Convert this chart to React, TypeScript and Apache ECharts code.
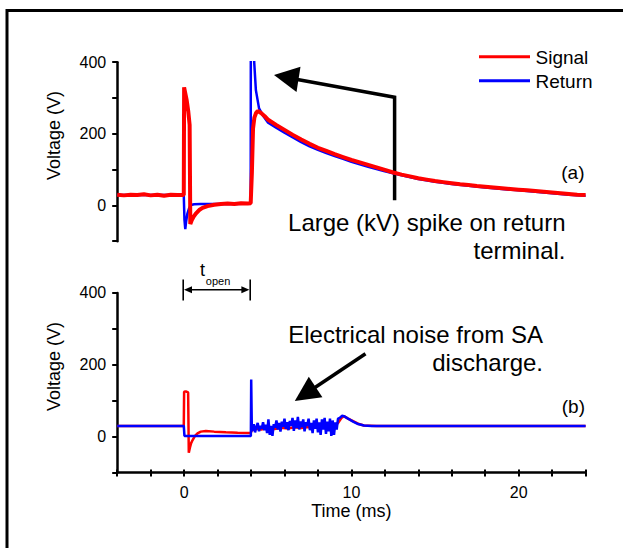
import React, { useEffect, useRef } from "react";
import * as echarts from "echarts";

// ---- Panel (a): top ----
const topSignalT = [-4, -3.6, -3.2, -2.8, -2.4, -2, -1.6, -1.2, -0.8, -0.4, -0.02, 0, 0.05, 0.15, 0.25, 0.33, 0.37, 0.45, 0.55, 0.7, 0.9, 1.1, 1.4, 1.8, 2.2, 2.6, 3.0, 3.4, 3.8, 3.98, 4.05, 4.12, 4.2, 4.3, 4.4, 4.6, 4.8, 5, 5.5, 6, 6.5, 7, 7.5, 8, 8.5, 9, 9.5, 10, 10.5, 11, 11.5, 12, 12.5, 13, 13.5, 14, 14.5, 15, 15.5, 16, 16.5, 17, 17.5, 18, 18.5, 19, 19.5, 20, 20.5, 21, 21.5, 22, 22.5, 23, 23.5, 24];
const topSignalV = [30, 28, 30, 29, 31, 28, 30, 27, 30, 29, 29, 330, 318, 295, 262, 225, -52, -42, -33, -23, -13, -7, -2, 2, 4, 5, 4, 6, 5, 6, 90, 215, 245, 258, 264, 258, 250, 240, 225, 211, 197, 184, 172, 161, 152, 143, 135, 127, 120, 113, 106, 99, 92, 86, 81, 76, 72, 68, 65, 62, 59, 57, 54, 52, 50, 48, 46, 44, 42, 40, 38, 36, 34, 32, 30, 29];

const topReturnT = [-4, -2, -0.02, 0.02, 0.07, 0.12, 0.2, 0.3, 0.4, 0.6, 1.0, 2.0, 3.0, 3.98, 4.02, 4.12, 4.19, 4.29, 4.48, 4.7, 5, 5.5, 6, 6.5, 7, 7.5, 8, 8.5, 9, 9.5, 10, 11, 12, 13, 14, 15, 16, 17, 18, 19, 20, 21, 22, 23, 24];
const topReturnV = [29, 29, 29, -40, -66, -45, -22, -8, 1, 3, 4, 4, 4, 5, 2500, 900, 400, 322, 271, 252, 232, 217, 203, 190, 177, 165, 155, 146, 138, 130, 122, 108, 95, 84, 74, 66, 60, 55, 50, 46, 42, 38, 34, 30, 27];

// ---- Panel (b): bottom ----
const botSignalT = [-4, -2, -0.02, 0.0, 0.1, 0.24, 0.28, 0.35, 0.42, 0.5, 0.65, 0.8, 1.0, 1.3, 1.8, 2.5, 3.2, 3.98, 4.05, 4.3, 4.6, 5.0, 5.4, 5.8, 6.2, 6.6, 7.0, 7.4, 7.8, 8.2, 8.6, 9.0, 9.2, 9.4, 9.55, 9.8, 10.1, 10.4, 10.75, 11.5, 14, 18, 24];
const botSignalV = [30, 30, 30, 125, 126, 123, -45, -30, -18, -10, 2, 9, 14, 16, 14, 12, 11, 10, 18, 22, 20, 24, 21, 25, 23, 26, 24, 27, 25, 28, 26, 30, 38, 52, 57, 50, 43, 36, 31, 30, 30, 30, 30];

const botReturnT = [-4, -2, -0.02, 0.02, 1, 2, 3, 3.99, 4.01, 4.05,
  4.08, 4.16, 4.24, 4.32, 4.40, 4.48, 4.56, 4.64, 4.72, 4.80, 4.88, 4.96, 5.04, 5.12, 5.20, 5.28,
  5.36, 5.44, 5.52, 5.60, 5.68, 5.76, 5.84, 5.92, 6.00, 6.08, 6.16, 6.24, 6.32, 6.40, 6.48, 6.56,
  6.64, 6.72, 6.80, 6.88, 6.96, 7.04, 7.12, 7.20, 7.28, 7.36, 7.44, 7.52, 7.60, 7.68, 7.76, 7.84,
  7.92, 8.00, 8.08, 8.16, 8.24, 8.32, 8.40, 8.48, 8.56, 8.64, 8.72, 8.80, 8.88, 8.96, 9.04, 9.12,
  9.2, 9.3, 9.45, 9.55, 9.8, 10.1, 10.4, 10.75, 11.2, 14, 18, 24];
const botReturnV = [30, 30, 30, 2, 2, 2, 2, 2, 159, 15,
  20, 35, 12, 28, 38, 15, 30, 22, 40, 18, 33, 10, 48, 5, 30, 2,
  35, 25, 45, 20, 38, 14, 42, 28, 50, 22, 40, 18, 44, 30, 52, 16,
  45, 24, 55, 20, 42, 26, 48, 15, 40, 30, 50, 18, 38, 10, 45, 22,
  50, 12, 40, 5, 48, 20, 52, 8, 42, 15, 50, 2, 45, 5, 40, 20,
  50, 52, 58, 57, 50, 42, 35, 31, 30, 30, 30, 30];

const yTickLabels = [0, 200, 400];
const xTickLabels = [0, 10, 20];

const RED = "#ff0000";
const BLUE = "#0000ff";
const FONT = '"Liberation Sans", Arial, Helvetica, sans-serif';

const zip = (t: number[], v: number[]) => t.map((x, i) => [x, v[i]]);

function yAxisFor(gridIndex: number) {
  return {
    gridIndex,
    type: "value",
    min: -100,
    max: 400,
    interval: 100,
    axisLine: { show: true, onZero: false, lineStyle: { color: "#000", width: 2.5 } },
    axisTick: { show: true, length: 5, lineStyle: { color: "#000", width: 2 } },
    axisLabel: {
      color: "#000",
      fontSize: 16,
      fontFamily: FONT,
      margin: 11,
      formatter: (v: number) => (yTickLabels.includes(v) ? String(v) : ""),
    },
    splitLine: { show: false },
  };
}

function txt(x: number, y: number, text: string, size: number, align = "left", extra: any = {}) {
  return {
    type: "text",
    x,
    y,
    silent: true,
    ...extra,
    style: {
      text,
      fill: "#000",
      fontSize: size,
      fontFamily: FONT,
      textAlign: align,
      verticalAlign: "middle",
    },
  };
}

function seg(x1: number, y1: number, x2: number, y2: number, w: number, color = "#000") {
  return { type: "line", silent: true, shape: { x1, y1, x2, y2 }, style: { stroke: color, lineWidth: w } };
}

function tri(points: number[][]) {
  return { type: "polygon", silent: true, shape: { points }, style: { fill: "#000" } };
}

export default function App() {
  const ref = useRef<HTMLDivElement>(null);
  useEffect(() => {
    if (!ref.current) return;
    const chart = echarts.init(ref.current, undefined, { renderer: "svg" });
    const option: any = {
      animation: false,
      backgroundColor: "#fff",
      grid: [
        { left: 117.2, top: 62.2, width: 468.4, height: 179 },
        { left: 117.2, top: 292.9, width: 468.4, height: 179.7 },
      ],
      xAxis: [
        { gridIndex: 0, type: "value", min: -4, max: 24, show: false, splitLine: { show: false } },
        {
          gridIndex: 1,
          type: "value",
          min: -4,
          max: 24,
          interval: 2,
          axisLine: { show: true, onZero: false, lineStyle: { color: "#000", width: 2.5 } },
          axisTick: { show: true, length: 4, lineStyle: { color: "#000", width: 2 } },
          axisLabel: {
            color: "#000",
            fontSize: 16,
            fontFamily: FONT,
            margin: 12,
            formatter: (v: number) => (xTickLabels.includes(v) ? String(v) : ""),
          },
          splitLine: { show: false },
          name: "Time (ms)",
          nameLocation: "middle",
          nameGap: 27,
          nameTextStyle: { color: "#000", fontSize: 18, fontFamily: FONT },
        },
        {
          gridIndex: 1,
          type: "value",
          min: -4,
          max: 24,
          interval: 2,
          position: "bottom",
          axisLine: { show: false, onZero: false },
          axisTick: { show: true, inside: true, length: 3, lineStyle: { color: "#000", width: 2 } },
          axisLabel: { show: false },
          splitLine: { show: false },
        },
      ],
      yAxis: [yAxisFor(0), yAxisFor(1)],
      series: [
        {
          type: "line", xAxisIndex: 0, yAxisIndex: 0, data: zip(topReturnT, topReturnV),
          showSymbol: false, symbol: "none", lineStyle: { color: BLUE, width: 2.5 }, clip: true,
        },
        {
          type: "line", xAxisIndex: 0, yAxisIndex: 0, data: zip(topSignalT, topSignalV),
          showSymbol: false, symbol: "none", lineStyle: { color: RED, width: 4 }, clip: true,
        },
        {
          type: "line", xAxisIndex: 1, yAxisIndex: 1, data: zip(botSignalT, botSignalV),
          showSymbol: false, symbol: "none", lineStyle: { color: RED, width: 2.5 }, clip: true,
        },
        {
          type: "line", xAxisIndex: 1, yAxisIndex: 1, data: zip(botReturnT, botReturnV),
          showSymbol: false, symbol: "none", lineStyle: { color: BLUE, width: 2.5 }, clip: true,
        },
      ],
      graphic: [
        {
          type: "rect", silent: true,
          shape: { x: 7, y: 10.5, width: 700, height: 700 },
          style: { fill: "rgba(0,0,0,0)", stroke: "#000", lineWidth: 3 },
        },
        // legend
        seg(479, 56.7, 530, 56.7, 3, RED),
        seg(479, 80.7, 530, 80.7, 3, BLUE),
        txt(535.5, 57, "Signal", 19),
        txt(535.5, 81, "Return", 19),
        // y axis names
        txt(54, 135.5, "Voltage (V)", 18, "center", { rotation: Math.PI / 2 }),
        txt(54, 366.5, "Voltage (V)", 18, "center", { rotation: Math.PI / 2 }),
        // panel labels
        txt(584.5, 172, "(a)", 19, "right"),
        txt(585, 406.5, "(b)", 19, "right"),
        // annotations
        txt(565.5, 222.5, "Large (kV) spike on return", 24, "right"),
        txt(565.5, 250.5, "terminal.", 24, "right"),
        txt(543, 334, "Electrical noise from SA", 24, "right"),
        txt(543, 362.5, "discharge.", 24, "right"),
        // top arrow
        {
          type: "polyline", silent: true,
          shape: { points: [[394.6, 200.3], [394.6, 97.2], [296, 79.2]] },
          style: { stroke: "#000", lineWidth: 3.5, fill: null },
        },
        tri([[274, 75], [300.5, 66.8], [296.5, 92]]),
        // bottom arrow
        seg(365.5, 353.7, 312, 389.5, 3.5),
        tri([[294.8, 400.9], [308.8, 376.8], [322.4, 397.2]]),
        // t_open marker
        seg(183.2, 279.5, 183.2, 300.5, 1.6),
        seg(250.2, 279.5, 250.2, 300.5, 1.6),
        seg(189, 289.8, 244.4, 289.8, 1.6),
        tri([[184, 289.8], [192, 286.3], [192, 293.3]]),
        tri([[249.4, 289.8], [241.4, 286.3], [241.4, 293.3]]),
        txt(202.6, 269.5, "t", 18, "center"),
        txt(205.8, 280.5, "open", 11, "left"),
      ],
    };
    chart.setOption(option);
    return () => chart.dispose();
  }, []);
  return (
    <div
      ref={ref}
      style={{ position: "fixed", left: 0, top: 0, width: 623, height: 548, background: "#fff" }}
    />
  );
}
